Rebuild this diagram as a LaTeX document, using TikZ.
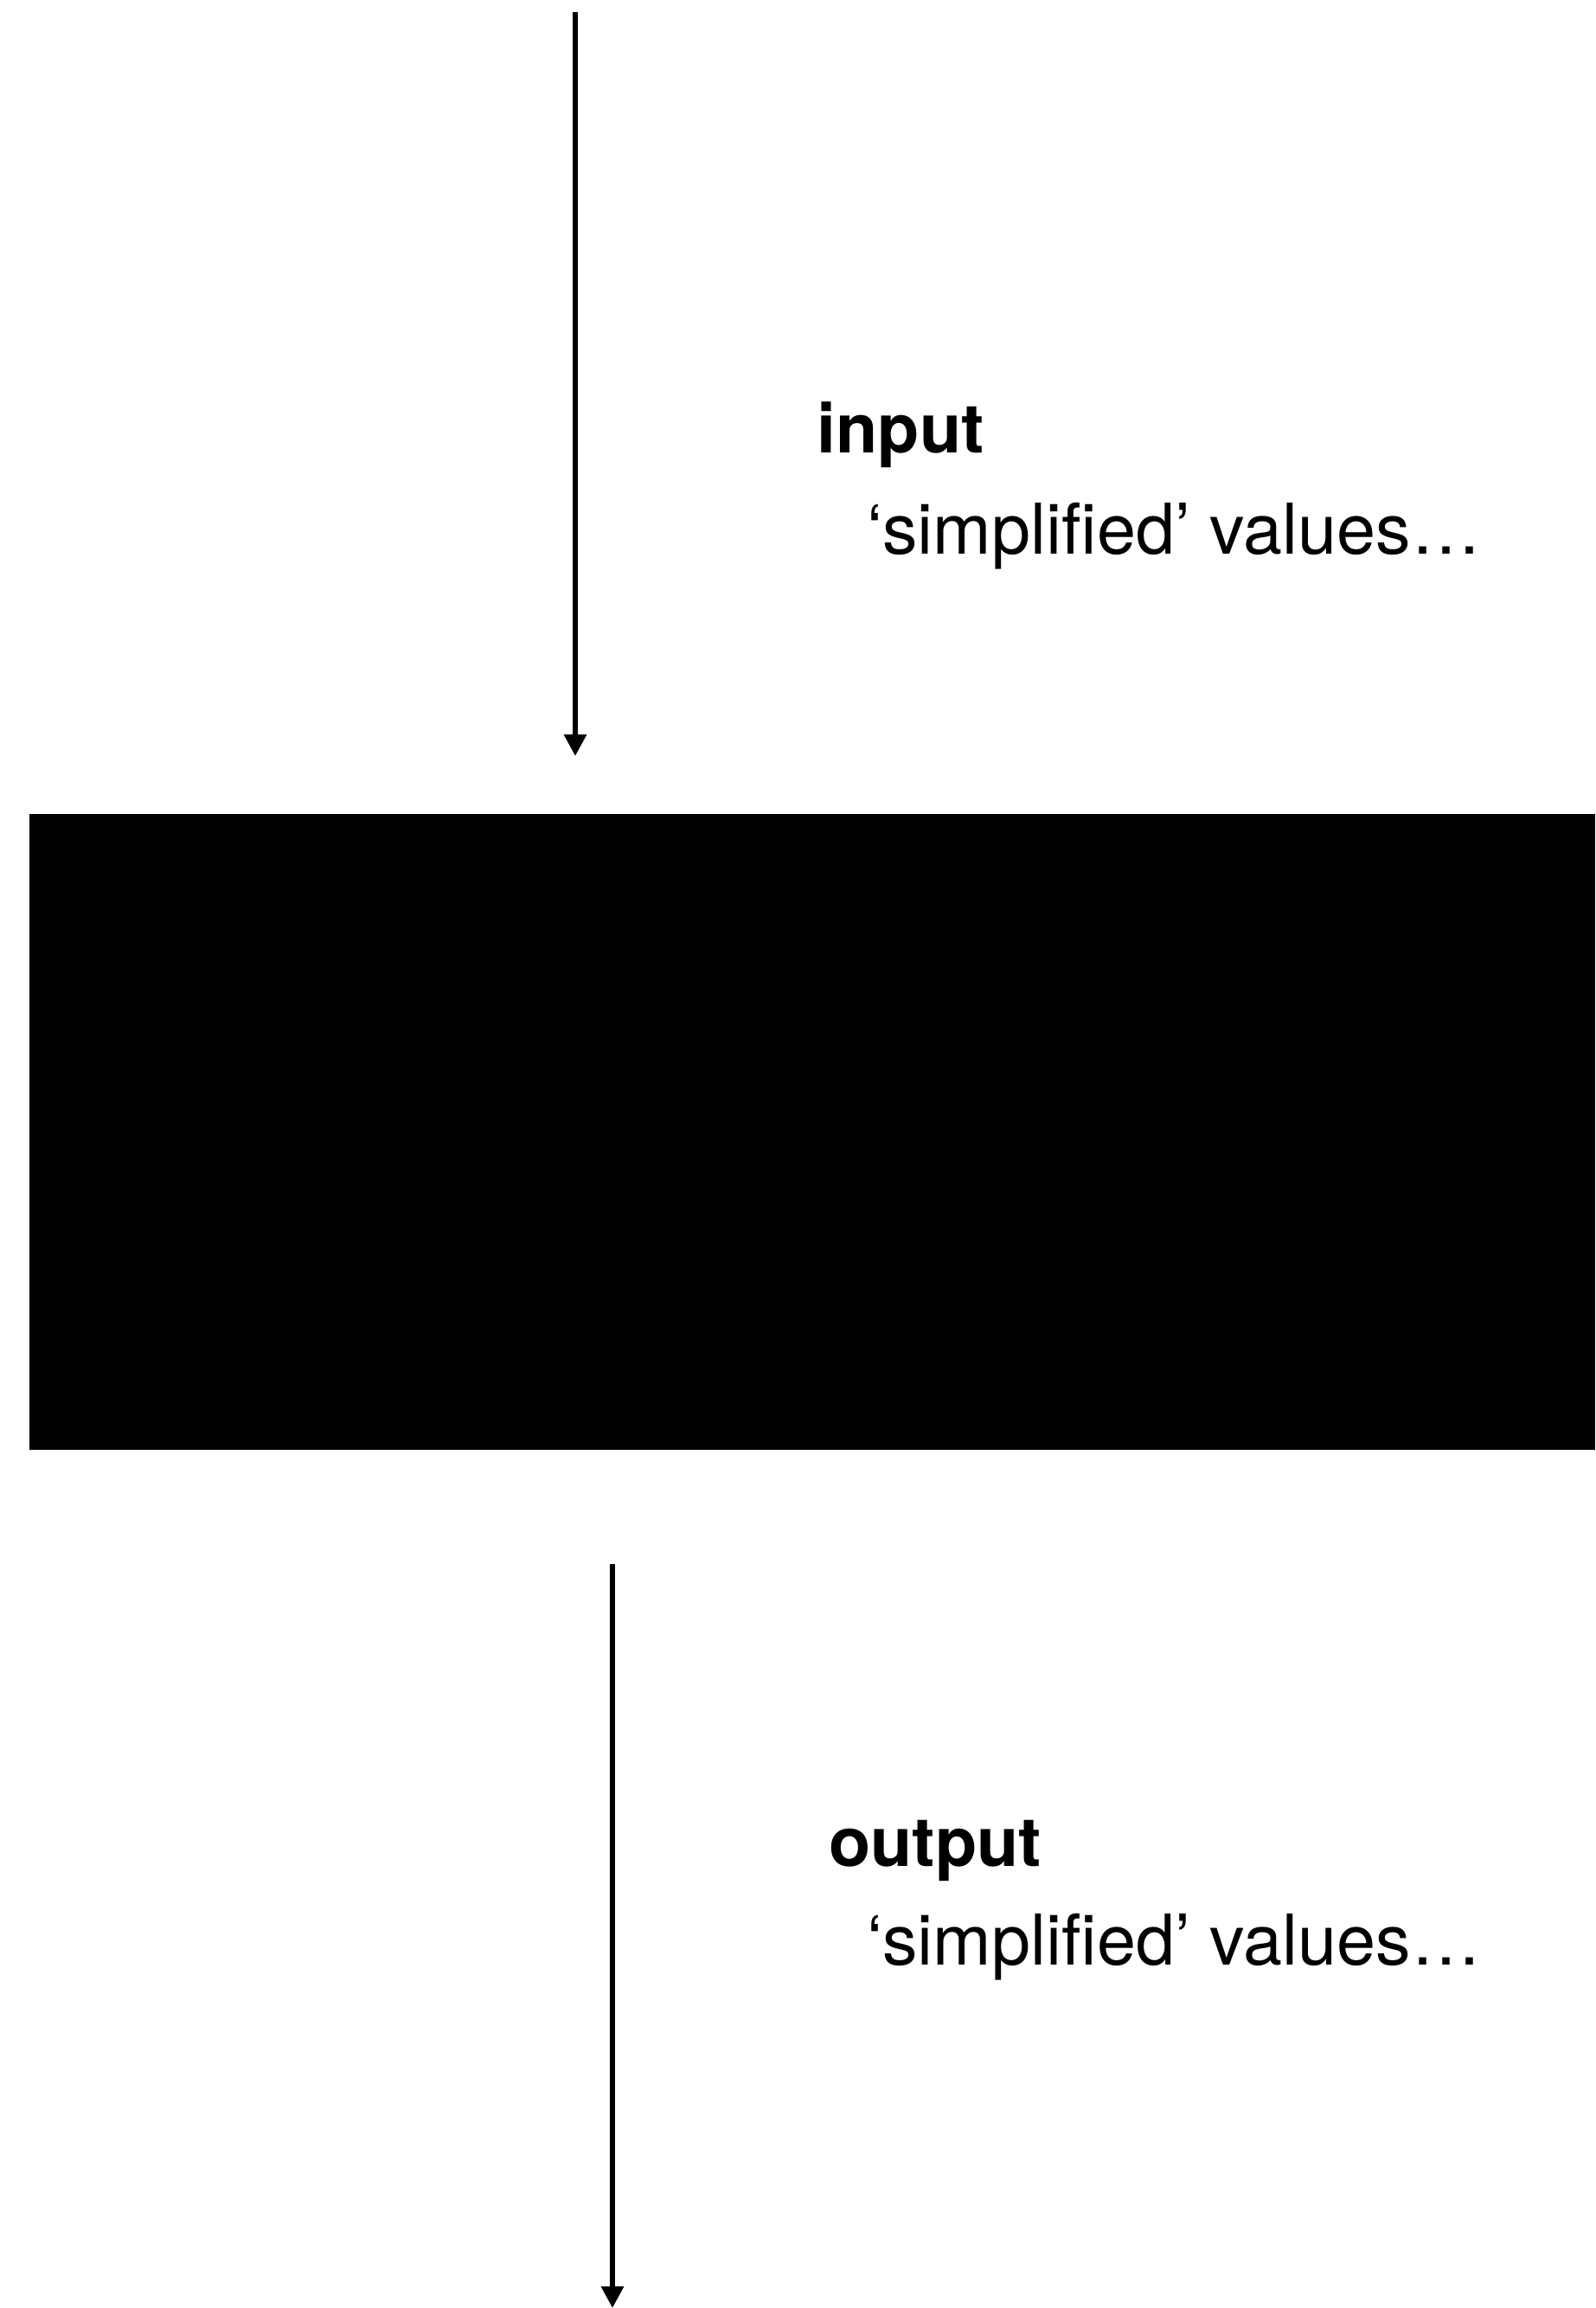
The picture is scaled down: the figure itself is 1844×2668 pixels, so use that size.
\documentclass[tikz,border=0pt]{standalone}
\usepackage{fontspec}
\setmainfont{TeX Gyre Heros}
\usetikzlibrary{arrows.meta}
\begin{document}
\begin{tikzpicture}[x=1pt, y=-1pt,
  flow/.style={line width=6pt, -{Triangle[width=25pt,length=25pt]}},
  title/.style={anchor=base west, inner sep=0pt, font=\fontsize{79}{95}\selectfont\bfseries},
  note/.style={anchor=base west, inner sep=0pt, font=\fontsize{81}{97}\selectfont}]
\useasboundingbox (0, 0) rectangle (1844, 2668);
\node [fill=black, anchor=north west, inner sep=0pt, minimum width=1810pt, minimum height=735pt] (block) at (34, 941) {};
\coordinate (in start) at (665, 14);
\coordinate (in end) at (665, 874);
\draw [flow] (in start) -- (in end);
\node [title] (in title) at (944, 523) {input};
\node [note] (in note) at (1002, 640) {‘simplified’ values…};
\coordinate (out start) at (708, 1808);
\coordinate (out end) at (708, 2668);
\draw [flow] (out start) -- (out end);
\node [title] (out title) at (958, 2157) {output};
\node [note] (out note) at (1002, 2271) {‘simplified’ values…};
\end{tikzpicture}
\end{document}
